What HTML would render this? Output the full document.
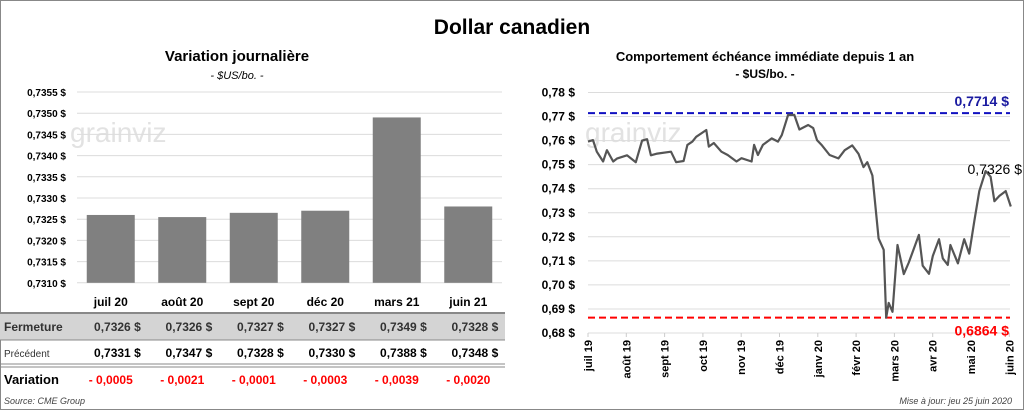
<!DOCTYPE html>
<html><head><meta charset="utf-8"><style>
body{margin:0;background:#fff;font-family:"Liberation Sans",sans-serif}
svg text{font-family:"Liberation Sans",sans-serif}
</style></head><body>
<svg id="s" width="1024" height="410" viewBox="0 0 1024 410" xmlns="http://www.w3.org/2000/svg">
<rect x="0.5" y="0.5" width="1023" height="409" fill="#fff" stroke="#888"/>
<text x="512" y="34" font-size="21" font-weight="bold" text-anchor="middle">Dollar canadien</text>
<text x="237" y="61" font-size="15" font-weight="bold" text-anchor="middle">Variation  journalière</text>
<text x="237" y="79" font-size="11" font-style="italic" text-anchor="middle">- $US/bo. -</text>
<text x="765" y="61" font-size="13" font-weight="bold" text-anchor="middle">Comportement échéance immédiate depuis 1 an</text>
<text x="765" y="78" font-size="12" font-weight="bold" text-anchor="middle">- $US/bo. -</text>
<text x="70" y="142" font-size="28" fill="#e2e2e2">grainviz</text>
<text x="585" y="142" font-size="28" fill="#e2e2e2">grainviz</text>
<g id="table">
<rect x="0" y="313" width="505" height="27" fill="#d4d4d4"/>
<line x1="0" y1="313" x2="505" y2="313" stroke="#888" stroke-width="2"/>
<line x1="0" y1="340" x2="505" y2="340" stroke="#888"/>
<line x1="0" y1="364" x2="505" y2="364" stroke="#888"/>
<line x1="0" y1="367" x2="505" y2="367" stroke="#888"/>
<text x="4" y="331" font-size="12" font-weight="bold" fill="#333">Fermeture</text>
<text x="4" y="357" font-size="10" fill="#333">Précédent</text>
<text x="4" y="384" font-size="13" font-weight="bold">Variation</text>
<text x="4" y="404" font-size="9" font-style="italic" fill="#444">Source: CME Group</text>
</g>
<g id="left"></g>
<g id="right"></g>
<text x="1012" y="404" font-size="9" font-style="italic" fill="#444" text-anchor="end">Mise à jour: jeu 25 juin 2020</text>
</svg>
<script>
const ns="http://www.w3.org/2000/svg";
function el(p,t,a,txt){const e=document.createElementNS(ns,t);for(const k in a)e.setAttribute(k,a[k]);if(txt!==undefined)e.textContent=txt;p.appendChild(e);return e;}
// Left chart data
const contracts=["juil 20","août 20","sept 20","déc 20","mars 21","juin 21"];
const closes=[0.7326,0.73255,0.73265,0.7327,0.7349,0.7328];
const closeLabels=["0,7326","0,7326","0,7327","0,7327","0,7349","0,7328"];
const prevLabels=["0,7331","0,7347","0,7328","0,7330","0,7388","0,7348"];
const varLabels=["- 0,0005","- 0,0021","- 0,0001","- 0,0003","- 0,0039","- 0,0020"];
const leftTicks=[0.7310,0.7315,0.7320,0.7325,0.7330,0.7335,0.7340,0.7345,0.7350,0.7355];
// Right chart data
const days=[0,4,7,12,15,20,23,31,38,43,47,50,55,66,70,76,79,83,86,94,96,100,106,111,118,122,130,132,135,139,146,151,154,159,164,168,175,179,182,186,192,199,204,210,215,219,222,226,231,235,237,239,242,246,251,255,263,266,271,274,279,282,286,288,294,299,303,307,311,316,320,323,327,332,336];
const prices=[0.7596,0.7602,0.7554,0.7513,0.756,0.7513,0.7525,0.7539,0.751,0.760,0.7606,0.7539,0.7546,0.7554,0.751,0.7515,0.7582,0.7596,0.7616,0.7644,0.7575,0.759,0.7554,0.754,0.7513,0.7527,0.7513,0.7582,0.754,0.7582,0.7609,0.7596,0.7623,0.7707,0.7707,0.7646,0.7665,0.7652,0.7602,0.758,0.754,0.7526,0.756,0.758,0.7545,0.749,0.751,0.7455,0.7193,0.7146,0.6864,0.6925,0.6888,0.7166,0.7045,0.7093,0.7208,0.708,0.7046,0.712,0.719,0.711,0.7083,0.7166,0.709,0.719,0.713,0.7265,0.739,0.7473,0.745,0.7348,0.737,0.739,0.7326];
const rightTicks=[0.68,0.69,0.70,0.71,0.72,0.73,0.74,0.75,0.76,0.77,0.78];
const months=["juil 19","août 19","sept 19","oct 19","nov 19","déc 19","janv 20","févr 20","mars 20","avr 20","mai 20","juin 20"];
const maxVal=0.7714, minVal=0.6864, lastVal=0.7326;

const fmt=(v,d)=>v.toFixed(d).replace(".",",");
const L=document.getElementById("left");
const ly=v=>92+(0.7355-v)/0.0005*21.2;
const x0=75,slot=71.5;
leftTicks.forEach(t=>{
 const g=el(L,"line",{x1:77,x2:502,y1:ly(t),y2:ly(t),stroke:"#dcdcdc"});
 
 
 const tx=el(L,"text",{x:66,y:ly(t)+4,"font-size":10,"font-weight":"bold","text-anchor":"end"},fmt(t,4)+" $");
 
 
});
contracts.forEach((c,i)=>{
 const cx=x0+slot*(i+0.5);
 const b=el(L,"rect",{x:cx-24,y:ly(closes[i]),width:48,height:ly(0.7310)-ly(closes[i]),fill:"#808080"});
 
 
 const h=el(L,"text",{x:cx,y:306,"font-size":12,"font-weight":"bold","text-anchor":"middle"},c);
 
 
 const a=el(L,"text",{x:cx+30,y:331,"font-size":12,"font-weight":"bold","text-anchor":"end",fill:"#333"},closeLabels[i]+"  $");
 
 
 const p=el(L,"text",{x:cx+30,y:357,"font-size":12,"font-weight":"bold","text-anchor":"end"},prevLabels[i]+"  $");
 
 
 const v=el(L,"text",{x:cx,y:384,"font-size":12,"font-weight":"bold","text-anchor":"middle",fill:"#f00"},varLabels[i]);
 
 
});
const R=document.getElementById("right");
const ry=v=>333-(v-0.68)/0.01*24.05;
const rx=d=>588+d/30.44*38.3;
rightTicks.forEach(t=>{
 const g=el(R,"line",{x1:588,x2:1010,y1:ry(t),y2:ry(t),stroke:"#dcdcdc"});
 
 
 const tx=el(R,"text",{x:575,y:ry(t)+4,"font-size":12,"font-weight":"bold","text-anchor":"end"},fmt(t,2)+" $");
 
 
});
months.forEach((m,i)=>{
 const x=588+i*38.3;
 const tk=el(R,"line",{x1:x,x2:x,y1:333,y2:337,stroke:"#ccc"});
 
 
 const t=el(R,"text",{x:0,y:0,"font-size":11,"font-weight":"bold","text-anchor":"end",transform:`translate(${x+4},340) rotate(-90)`},m);
 
 
});
const mx=el(R,"line",{x1:588,x2:1010,y1:ry(maxVal),y2:ry(maxVal),stroke:"#1010c0","stroke-width":2,"stroke-dasharray":"7,4"});


const mn=el(R,"line",{x1:588,x2:1010,y1:ry(minVal),y2:ry(minVal),stroke:"#f00","stroke-width":2,"stroke-dasharray":"7,4"});


const pts=days.map((d,i)=>rx(d).toFixed(1)+","+ry(prices[i]).toFixed(1)).join(" ");
const pl=el(R,"polyline",{points:pts,fill:"none",stroke:"#555","stroke-width":2.2,"stroke-linejoin":"round"});


const t1=el(R,"text",{x:1009,y:ry(maxVal)-7,"font-size":14,"font-weight":"bold",fill:"#1a1aa0","text-anchor":"end"},fmt(maxVal,4)+" $");


const t2=el(R,"text",{x:1009,y:ry(minVal)+18,"font-size":14,"font-weight":"bold",fill:"#f00","text-anchor":"end"},fmt(minVal,4)+" $");


const t3=el(R,"text",{x:1022,y:174,"font-size":14,"text-anchor":"end"},fmt(lastVal,4)+" $");


</script>
</body></html>
